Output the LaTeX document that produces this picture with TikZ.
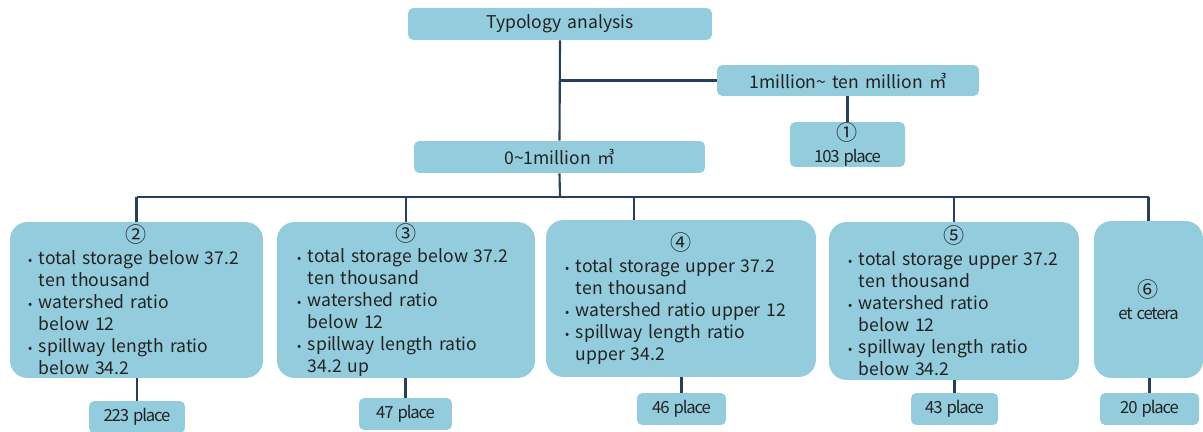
\documentclass[tikz,border=0pt]{standalone}
\usepackage{fontspec}
\setmainfont{Noto Sans CJK KR}[WordSpace=1.6]
\usetikzlibrary{positioning}

\definecolor{boxblue}{HTML}{93CDDD}
\definecolor{linenavy}{HTML}{263F5E}
\definecolor{txtgray}{HTML}{222222}

\newcommand{\bulmark}{\makebox[0.62em][l]{\fontsize{7}{7}\selectfont\textbullet}}
\newcommand{\oneline}[1]{\par\noindent\bulmark\mbox{#1}}
\newcommand{\twoline}[2]{\par\noindent\bulmark\mbox{#1}\par\noindent\hspace*{0.62em}\mbox{#2}}
\newcommand{\circnum}[1]{{\fontsize{12}{12.5}\selectfont #1}}
\newcommand{\placefont}{\fontsize{9.5}{11}\selectfont\addfontfeatures{LetterSpace=-7}}

\begin{document}
\begin{tikzpicture}[x=0.02cm, y=-0.02cm]

\tikzstyle{every node}=[font=\fontsize{10}{12.5}\selectfont, text=txtgray]
\tikzstyle{bar}=[fill=boxblue, rounded corners=3pt, inner sep=0pt]
\tikzstyle{typebox}=[fill=boxblue, rounded corners=10pt, inner sep=0pt]
\tikzstyle{link}=[draw=linenavy, line width=1.2pt]

\useasboundingbox (0,0) rectangle (1203,432);

% nodes %
\node[bar, minimum width=6.08cm, minimum height=0.64cm] (typ) at (560,24) {Typology analysis};
\node[bar, minimum width=5.24cm, minimum height=0.62cm] (big) at (848,80.5) {1million\textasciitilde{} ten million ㎥};
\node[bar, minimum width=2.3cm, minimum height=0.9cm, align=center] (c1) at (847.5,144.5) {\circnum{①}\\{\placefont 103 place}};
\node[bar, minimum width=5.82cm, minimum height=0.64cm] (small) at (559.5,157) {0\textasciitilde1million ㎥};

\node[typebox, minimum width=5.06cm, minimum height=3.12cm, text width=4.34cm] (b2) at (136.5,300)
  {\centering\circnum{②}\par\raggedright
   \twoline{total storage below 37.2}{ten thousand}
   \twoline{watershed ratio}{below 12}
   \twoline{spillway length ratio}{below 34.2}\par};
\node[typebox, minimum width=5.16cm, minimum height=3.12cm, text width=4.36cm] (b3) at (406,300)
  {\centering\circnum{③}\par\raggedright
   \twoline{total storage below 37.2}{ten thousand}
   \twoline{watershed ratio}{below 12}
   \twoline{spillway length ratio}{34.2 up}\par};
\node[typebox, minimum width=5.4cm, minimum height=3.14cm, text width=4.64cm] (b4) at (681,298.5)
  {\centering\circnum{④}\par\raggedright
   \twoline{total storage upper 37.2}{ten thousand}
   \oneline{watershed ratio upper 12}
   \twoline{spillway length ratio}{upper 34.2}\par};
\node[typebox, minimum width=5.0cm, minimum height=3.16cm, text width=4.24cm] (b5) at (954,301)
  {\centering\circnum{⑤}\par\raggedright
   \twoline{total storage upper 37.2}{ten thousand}
   \twoline{watershed ratio}{below 12}
   \twoline{spillway length ratio}{below 34.2}\par};
\node[typebox, minimum width=2.18cm, minimum height=3.14cm, align=center] (b6) at (1148.5,299.5) {\circnum{⑥}\\{\placefont et cetera}};

\node[bar, minimum width=1.92cm, minimum height=0.64cm, font=\placefont] (p2) at (137,417) {223 place};
\node[bar, minimum width=1.86cm, minimum height=0.64cm, font=\placefont] (p3) at (405.5,414) {47 place};
\node[bar, minimum width=1.78cm, minimum height=0.64cm, font=\placefont] (p4) at (681.5,409) {46 place};
\node[bar, minimum width=1.74cm, minimum height=0.64cm, font=\placefont] (p5) at (954.5,409) {43 place};
\node[bar, minimum width=1.98cm, minimum height=0.64cm, font=\placefont] (p6) at (1149.5,409) {20 place};

\coordinate (bus) at (560,197);
\coordinate (d4) at (634,197);

% edges %
\draw[link] (typ.south) -- (small.north);
\draw[link] (big.west) -- (big.west -| typ.south);
\draw[link] (c1.north |- big.south) -- (c1.north);
\draw[link] (small.south) -- (bus);
\draw[link] (b2.north |- bus) -- (b6.north |- bus);
\draw[link] (d4) -- (d4 |- b4.north);
\foreach \b in {b2,b3,b5,b6}
  \draw[link] (\b.north) -- (\b.north |- bus);
\foreach \b/\p in {b2/p2,b3/p3,b4/p4,b5/p5,b6/p6}
  \draw[link] (\b.south -| \p.north) -- (\p.north);

\end{tikzpicture}
\end{document}
